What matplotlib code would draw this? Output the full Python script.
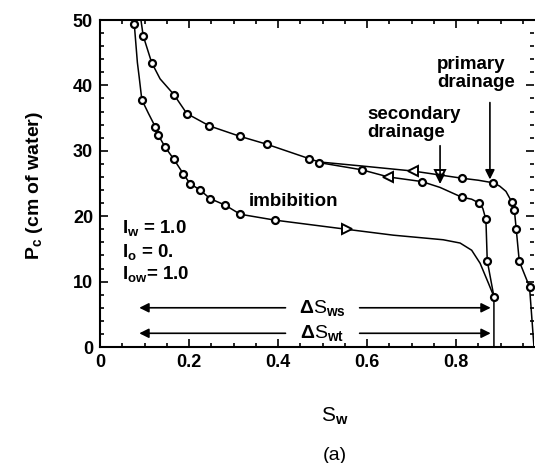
import matplotlib
matplotlib.use("Agg")
import matplotlib.pyplot as plt
from matplotlib.ticker import MultipleLocator

plt.rcParams['font.family'] = ['Liberation Sans', 'DejaVu Sans']
plt.rcParams['mathtext.fontset'] = 'custom'
plt.rcParams['mathtext.rm'] = 'Liberation Sans:bold'
plt.rcParams['mathtext.it'] = 'Liberation Sans:bold'
plt.rcParams['mathtext.bf'] = 'Liberation Sans:bold'
plt.rcParams['mathtext.default'] = 'rm'

# primary drainage (from Sw=1 side up to the top left)
prim_sw = [0.975, 0.965, 0.942, 0.935, 0.931, 0.925, 0.912, 0.898, 0.884, 0.850, 0.814,
           0.764, 0.704, 0.600, 0.492, 0.470, 0.375, 0.315, 0.246, 0.195, 0.166, 0.135,
           0.116, 0.097, 0.092]
prim_pc = [0.0, 9.2, 13.1, 18.1, 20.9, 22.2, 23.8, 24.6, 25.1, 25.5, 25.8,
           26.3, 26.9, 27.6, 28.3, 28.8, 31.0, 32.2, 33.8, 35.7, 38.6, 41.0,
           43.5, 47.6, 50.0]
prim_pts_sw = [0.965, 0.942, 0.935, 0.931, 0.925, 0.884, 0.814, 0.470, 0.375, 0.315,
               0.246, 0.195, 0.166, 0.116, 0.097]
prim_pts_pc = [9.2, 13.1, 18.1, 20.9, 22.2, 25.1, 25.8, 28.8, 31.0, 32.2,
               33.8, 35.7, 38.6, 43.5, 47.6]

# secondary drainage
sec_sw = [0.885, 0.885, 0.870, 0.867, 0.860, 0.852, 0.835, 0.813, 0.764, 0.723,
          0.648, 0.588, 0.492]
sec_pc = [0.0, 7.7, 13.2, 19.5, 21.2, 22.0, 22.6, 22.9, 24.4, 25.3,
          26.0, 27.1, 28.2]
sec_pts_sw = [0.885, 0.870, 0.867, 0.852, 0.813, 0.723, 0.588, 0.492]
sec_pts_pc = [7.7, 13.2, 19.5, 22.0, 22.9, 25.3, 27.1, 28.2]

# imbibition
imb_sw = [0.073, 0.077, 0.084, 0.088, 0.094, 0.109, 0.124, 0.131, 0.146, 0.166, 0.187,
          0.202, 0.225, 0.247, 0.281, 0.315, 0.393, 0.554, 0.659, 0.771, 0.809,
          0.835, 0.854, 0.873, 0.885]
imb_pc = [50.0, 49.4, 43.5, 41.3, 37.8, 35.7, 33.7, 32.4, 30.6, 28.7, 26.5,
          25.0, 24.0, 22.7, 21.7, 20.3, 19.4, 18.0, 17.1, 16.4, 15.9,
          14.8, 12.8, 9.7, 7.7]
imb_pts_sw = [0.077, 0.094, 0.124, 0.131, 0.146, 0.166, 0.187, 0.202, 0.225, 0.247,
              0.281, 0.315, 0.393]
imb_pts_pc = [49.4, 37.8, 33.7, 32.4, 30.6, 28.7, 26.5, 25.0, 24.0, 22.7,
              21.7, 20.3, 19.4]

# direction markers (sw, pc, marker)
dir_marks = [(0.554, 18.0, '>'), (0.704, 26.9, '<'), (0.648, 26.0, '<'), (0.764, 26.3, 'v')]

fig = plt.figure(figsize=(5.35, 4.63), dpi=100)
ax = fig.add_axes([0.1869, 0.2505, 0.8112, 0.7063])

lw = 1.1
ax.plot(prim_sw, prim_pc, color='black', lw=lw)
ax.plot(sec_sw, sec_pc, color='black', lw=lw)
ax.plot(imb_sw, imb_pc, color='black', lw=lw)
mk = dict(ls='none', marker='o', ms=5, mfc='white', mec='black', mew=1.6)
ax.plot(prim_pts_sw, prim_pts_pc, **mk)
ax.plot(sec_pts_sw, sec_pts_pc, **mk)
ax.plot(imb_pts_sw, imb_pts_pc, **mk)
for sw, pc, m in dir_marks:
    ax.plot(sw, pc, marker=m, ms=7, mfc='white', mec='black', mew=1.4, ls='none')

ax.set_xlim(0, 0.975)
ax.set_ylim(0, 50)
ax.xaxis.set_major_locator(MultipleLocator(0.2))
ax.xaxis.set_minor_locator(MultipleLocator(0.05))
ax.yaxis.set_major_locator(MultipleLocator(10))
ax.yaxis.set_minor_locator(MultipleLocator(2))
ax.set_xticks([0, 0.2, 0.4, 0.6, 0.8])
ax.set_xticklabels(['0', '0.2', '0.4', '0.6', '0.8'])
ax.tick_params(which='both', direction='in', top=True, right=True, width=1.2,
               labelsize=13, pad=5)
ax.tick_params(which='major', length=6)
ax.tick_params(which='minor', length=3)
for lab in ax.get_xticklabels() + ax.get_yticklabels():
    lab.set_fontweight('bold')
for s in ['left', 'bottom', 'top']:
    ax.spines[s].set_linewidth(1.5)
ax.spines['right'].set_visible(False)

# saturation change arrows
arr = dict(arrowstyle='-|>', color='black', lw=1.2, mutation_scale=14)
ax.annotate('', xy=(0.082, 6.0), xytext=(0.423, 6.0), arrowprops=arr)
ax.annotate('', xy=(0.884, 6.0), xytext=(0.577, 6.0), arrowprops=arr)
ax.annotate('', xy=(0.082, 2.1), xytext=(0.423, 2.1), arrowprops=arr)
ax.annotate('', xy=(0.884, 2.1), xytext=(0.577, 2.1), arrowprops=arr)
ax.text(0.500, 6.0, r'$\Delta$S$_{ws}$', ha='center', va='center', fontsize=14)
ax.text(0.500, 2.1, r'$\Delta$S$_{wt}$', ha='center', va='center', fontsize=14)

# curve labels
tx = dict(fontsize=13.5, fontweight='bold', ha='left', va='center', linespacing=1.05)
ax.text(0.335, 22.2, 'imbibition', **tx)
ax.text(0.600, 34.2, 'secondary\ndrainage', **tx)
ax.text(0.757, 41.8, 'primary\ndrainage', **tx)
head = dict(arrowstyle='-|>', color='black', lw=1.2, mutation_scale=14)
ax.annotate('', xy=(0.764, 24.5), xytext=(0.764, 31.2), arrowprops=head)
ax.annotate('', xy=(0.876, 25.2), xytext=(0.876, 37.8), arrowprops=head)

ax.text(0.049, 18.2, r'I$_{w}$ = 1.0', fontsize=13.5, fontweight='bold', va='center')
ax.text(0.049, 14.6, r'I$_{o}$ = 0.', fontsize=13.5, fontweight='bold', va='center')
ax.text(0.049, 11.2, r'I$_{ow}$= 1.0', fontsize=13.5, fontweight='bold', va='center')

fig.text(0.625, 0.10, r'S$_{w}$', ha='center', va='center', fontsize=15)
fig.text(0.625, 0.017, '(a)', ha='center', va='center', fontsize=14)
fig.text(0.065, 0.60, r'P$_{c}$ (cm of water)', ha='center', va='center',
         rotation=90, fontsize=14, fontweight='bold')

fig.savefig('out.png', dpi=100)
